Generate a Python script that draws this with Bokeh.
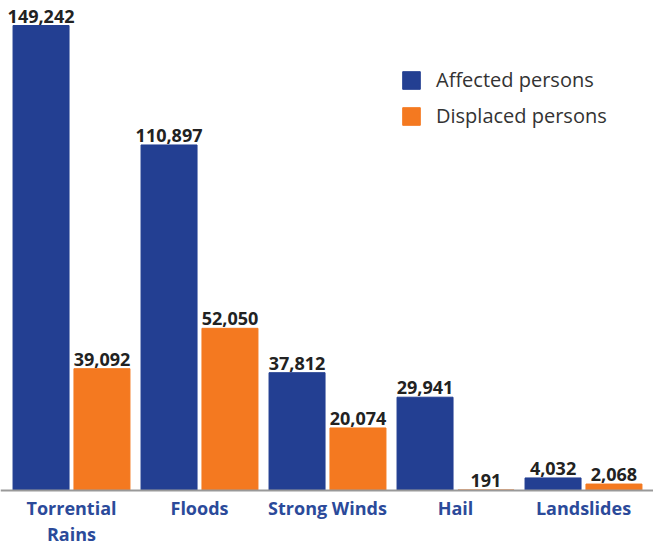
from bokeh.plotting import figure
from bokeh.models import ColumnDataSource, Legend, LegendItem, Span
from bokeh.core.properties import value
from bokeh.embed import file_html
from bokeh.resources import INLINE

categories = ["Torrential\nRains", "Floods", "Strong Winds", "Hail", "Landslides"]
affected = [149242, 110897, 37812, 29941, 4032]
displaced = [39092, 52050, 20074, 191, 2068]

BLUE = "#233F92"
ORANGE = "#F47920"
FONT = value("Open Sans")

idx = list(range(len(categories)))
off = 0.238
bw = 0.4375

src_a = ColumnDataSource(dict(x=[i - off for i in idx], top=affected,
                              lab=[f"{v:,}" for v in affected]))
src_d = ColumnDataSource(dict(x=[i + off for i in idx], top=displaced,
                              lab=[f"{v:,}" for v in displaced]))
src_c = ColumnDataSource(dict(x=idx, y=[0] * len(idx), lab=categories))

p = figure(width=653, height=545, x_range=(-0.5547, 4.5469), y_range=(-17652, 157266),
           output_backend="svg", toolbar_location=None,
           min_border_left=0, min_border_right=0, min_border_top=0, min_border_bottom=0)
p.axis.visible = False
p.grid.visible = False
p.outline_line_color = None

r1 = p.vbar(x="x", top="top", width=bw, bottom=0, source=src_a,
            fill_color=BLUE, line_color=BLUE)
r2 = p.vbar(x="x", top="top", width=bw, bottom=0, source=src_d,
            fill_color=ORANGE, line_color=ORANGE)

for s in (src_a, src_d):
    p.text(x="x", y="top", text="lab", source=s, text_align="center",
           text_baseline="bottom", y_offset=-3, text_font=FONT,
           text_font_style="bold", text_font_size="18px", text_color="#222222")

p.text(x="x", y="y", text="lab", source=src_c, text_align="center",
       text_baseline="top", y_offset=5, text_font=FONT, text_font_style="bold",
       text_font_size="18px", text_color="#2B4A9A", text_line_height=1.12)

p.add_layout(Span(location=0, dimension="width", line_color="#999999", line_width=2))

legend = Legend(items=[LegendItem(label="Affected persons", renderers=[r1]),
                       LegendItem(label="Displaced persons", renderers=[r2])],
                location=(400, 416), glyph_width=22, glyph_height=22,
                label_height=22, spacing=9, label_standoff=14, padding=0, margin=0,
                border_line_color=None, background_fill_alpha=0,
                label_text_font="Open Sans", label_text_font_size="20px",
                label_text_color="#333333")
p.add_layout(legend, "center")

open("out.html", "w").write(file_html(p, INLINE))
